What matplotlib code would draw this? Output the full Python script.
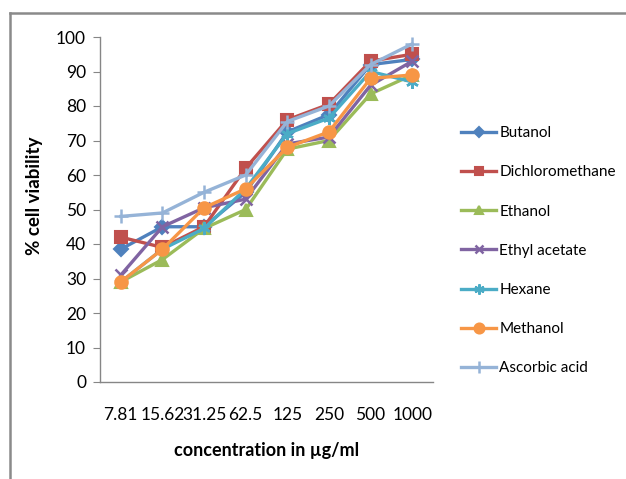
import matplotlib
matplotlib.use("Agg")
import matplotlib.pyplot as plt
from matplotlib.lines import Line2D

categories = ["7.81", "15.62", "31.25", "62.5", "125", "250", "500", "1000"]
butanol = [38.5, 45, 45, 55, 72.5, 77.5, 92, 93.5]
dichloromethane = [42, 39, 45, 62, 76, 80.5, 93, 95]
ethanol = [29, 35.5, 44.5, 50, 67.5, 70, 83.5, 89]
ethyl_acetate = [31, 45, 50.5, 53, 69, 71, 86, 93]
hexane = [29, 38.5, 44.5, 56, 72, 76.5, 90, 87]
methanol = [29, 38.5, 50.5, 56, 68, 72.5, 88, 89]
ascorbic_acid = [48, 49, 55, 60, 75.5, 80, 92, 98]

series = [
    ("Butanol", butanol, "#4F81BD", "D", 7),
    ("Dichloromethane", dichloromethane, "#C0504D", "s", 8),
    ("Ethanol", ethanol, "#9BBB59", "^", 8),
    ("Ethyl acetate", ethyl_acetate, "#8064A2", "x", 8),
    ("Hexane", hexane, "#4BACC6", (6, 2, 0), 9),
    ("Methanol", methanol, "#F79646", "o", 9),
    ("Ascorbic acid", ascorbic_acid, "#95B3D7", "+", 10),
]

plt.rcParams['font.family'] = ['Lato', 'DejaVu Sans']

fig = plt.figure(figsize=(6.26, 4.79), dpi=100)
W, H = 626, 479
ax = fig.add_axes([100 / W, 1 - 382 / H, (433 - 100) / W, (382 - 37) / H])

x = list(range(len(categories)))
handles = []
for name, vals, col, mk, ms in series:
    filled = mk not in ("x", "+") and not isinstance(mk, tuple)
    ln, = ax.plot(x, vals, color=col, lw=2.4, marker=mk, markersize=ms,
                  markeredgewidth=1.5 if filled else 1.8,
                  markerfacecolor=col, markeredgecolor=col, label=name)
    handles.append(ln)

ax.set_xlim(-0.5, len(categories) - 0.5)
ax.set_ylim(0, 100)
ax.set_yticks(range(0, 101, 10))
ax.set_xticks(x)
ax.set_xticklabels(categories)
for s in ("top", "right"):
    ax.spines[s].set_visible(False)
for s in ("left", "bottom"):
    ax.spines[s].set_color("#868686")
    ax.spines[s].set_linewidth(1.0)
ax.tick_params(axis="y", direction="out", length=5, color="#868686",
               labelsize=12.5, pad=5)
ax.tick_params(axis="x", length=0, labelsize=12.5, pad=18)
ax.set_ylabel("% cell viability", fontsize=13.5, fontweight="bold")
ax.yaxis.set_label_coords(-0.171, 0.54)
ax.set_xlabel("concentration in µg/ml", fontsize=13, fontweight="bold",
              labelpad=14)

fig.legend(handles=handles, loc="upper left",
           bbox_to_anchor=(455 / W, 1 - 120 / H), frameon=False,
           fontsize=11, handlelength=2.3, handletextpad=0.2,
           labelspacing=1.65, borderaxespad=0, markerscale=0.8)

# outer frame
fig.add_artist(Line2D([10 / W, 10 / W], [0, 1 - 13 / H], transform=fig.transFigure,
                      color="#8A8A8A", lw=1.8))
fig.add_artist(Line2D([10 / W, 1], [1 - 13 / H, 1 - 13 / H], transform=fig.transFigure,
                      color="#8A8A8A", lw=1.8))

fig.savefig("out.png", dpi=100)
